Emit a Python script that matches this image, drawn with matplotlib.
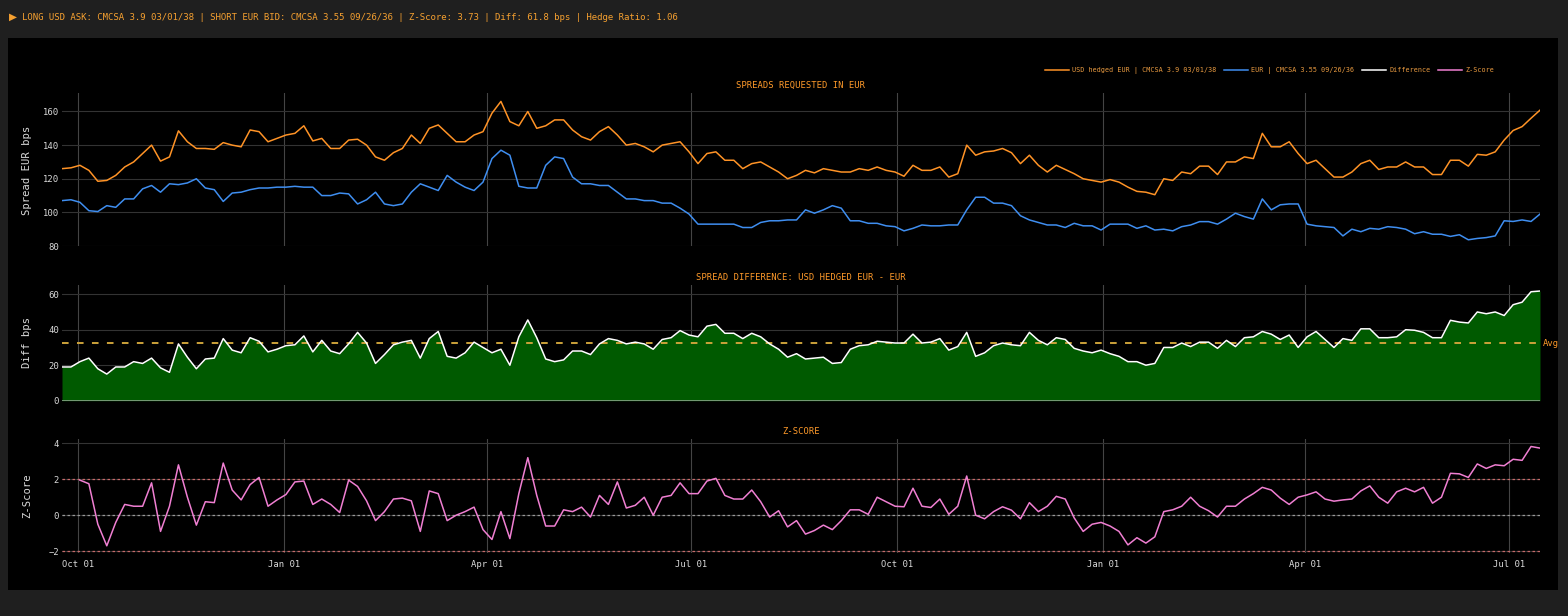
import numpy as np
import pandas as pd
import matplotlib
matplotlib.use("Agg")
import matplotlib.pyplot as plt
import matplotlib.dates as mdates
from matplotlib.lines import Line2D
from matplotlib.patches import Rectangle

# ---------------- data ----------------
start_date = "2023-09-24"
step = "4D"

usd_hedged_eur = [
    126, 126.5, 128, 125, 118.5, 119, 122, 127, 130, 135,
    140, 130.5, 133, 148.5, 142, 138, 138, 137.5, 141.5, 140,
    139, 149, 148, 142, 144, 146, 147, 151.5, 142.5, 144,
    138, 138, 143, 143.5, 140, 133, 131, 135.5, 138, 146,
    141, 150, 152, 147, 142, 142, 146, 148, 159, 166,
    154, 151.5, 160, 150, 151.5, 155, 155, 149, 145, 143,
    148, 151, 146, 140, 141, 139, 136, 140, 141, 142,
    136, 129, 135, 136, 131, 131, 126, 129, 130, 127,
    124, 120, 122, 125, 123.5, 126, 125, 124, 124, 126,
    125, 127, 125, 124, 121.5, 128, 125, 125, 127, 121,
    123, 140, 134, 136, 136.5, 138, 135.5, 129, 134, 128,
    124, 128, 125.5, 123, 120, 119, 118, 119.5, 118, 115,
    112.5, 112, 110.5, 120, 119, 124, 123, 127.5, 127.5, 122.5,
    130, 130, 133, 132, 147, 139, 139, 142, 135, 129,
    131, 126, 121, 121, 124, 129, 131, 125.5, 127, 127,
    130, 127, 127, 122.5, 122.5, 131, 131, 127.5, 134.5, 134,
    136, 143, 148.7, 151, 156, 160.8,
]

eur = [
    107, 107.5, 106, 101, 100.5, 104, 103, 108, 108, 114,
    116, 112, 117, 116.5, 117.5, 120, 114.5, 113.5, 106.5, 111.5,
    112, 113.5, 114.5, 114.5, 115, 115, 115.5, 115, 115, 110,
    110, 111.5, 111, 105, 107.5, 112, 105, 104, 105, 112,
    117, 115, 113, 122, 118, 115, 113, 118, 132, 137,
    134, 115.5, 114.5, 114.5, 128, 133, 132, 121, 117, 117,
    116, 116, 112, 108, 108, 107, 107, 105.5, 105.5, 102.5,
    99, 93, 93, 93, 93, 93, 91, 91, 94, 95,
    95, 95.5, 95.5, 101.5, 99.5, 101.5, 104, 102.5, 95, 95,
    93.5, 93.5, 92, 91.5, 89, 90.5, 92.5, 92, 92, 92.5,
    92.5, 101.5, 109, 109, 105.5, 105.5, 104, 98, 95.5, 94,
    92.5, 92.5, 91, 93.5, 92, 92, 89.5, 93, 93, 93,
    90.5, 92, 89.5, 90, 89, 91.5, 92.5, 94.5, 94.5, 93,
    96, 99.5, 97.5, 96, 108, 101.5, 104.5, 105, 105, 93,
    92, 91.5, 91, 86, 90, 88.5, 90.5, 90, 91.5, 91,
    90, 87.3, 88.5, 87, 87, 85.7, 86.7, 83.7, 84.5, 85,
    86, 95, 94.6, 95.5, 94.6, 99,
]

z_score = [
    np.nan, np.nan, 1.95, 1.75, -0.5, -1.7, -0.4, 0.6, 0.5, 0.5,
    1.8, -0.9, 0.5, 2.8, 1.0, -0.55, 0.75, 0.7, 2.9, 1.4,
    0.85, 1.7, 2.1, 0.5, 0.85, 1.15, 1.85, 1.9, 0.6, 0.9,
    0.6, 0.15, 1.95, 1.6, 0.8, -0.3, 0.2, 0.9, 0.95, 0.8,
    -0.9, 1.35, 1.2, -0.3, 0.0, 0.2, 0.45, -0.8, -1.35, 0.2,
    -1.3, 1.2, 3.2, 1.1, -0.6, -0.6, 0.3, 0.2, 0.45, -0.1,
    1.1, 0.6, 1.85, 0.4, 0.55, 1.0, 0.0, 1.0, 1.1, 1.8,
    1.2, 1.2, 1.9, 2.05, 1.1, 0.9, 0.9, 1.4, 0.75, -0.1,
    0.25, -0.65, -0.3, -1.05, -0.85, -0.55, -0.8, -0.3, 0.3, 0.3,
    0.05, 1.0, 0.75, 0.5, 0.47, 1.5, 0.5, 0.43, 0.9, 0.05,
    0.5, 2.18, 0.0, -0.2, 0.2, 0.47, 0.28, -0.2, 0.7, 0.2,
    0.5, 1.05, 0.9, -0.15, -0.9, -0.5, -0.4, -0.6, -0.9, -1.65,
    -1.25, -1.55, -1.2, 0.2, 0.3, 0.5, 1.0, 0.5, 0.25, -0.1,
    0.5, 0.5, 0.9, 1.2, 1.55, 1.4, 0.95, 0.6, 1.0, 1.13,
    1.3, 0.9, 0.78, 0.85, 0.9, 1.35, 1.63, 1.0, 0.67, 1.3,
    1.5, 1.3, 1.55, 0.67, 1.0, 2.33, 2.3, 2.1, 2.85, 2.6,
    2.8, 2.75, 3.11, 3.05, 3.82, 3.73,
]

avg_diff = 32.3
z_levels = [-2, 0, 2]

header = ("LONG USD ASK: CMCSA 3.9 03/01/38 | SHORT EUR BID: CMCSA 3.55 09/26/36 "
          "| Z-Score: 3.73 | Diff: 61.8 bps | Hedge Ratio: 1.06")
legend_labels = ["USD hedged EUR | CMCSA 3.9 03/01/38", "EUR | CMCSA 3.55 09/26/36",
                 "Difference", "Z-Score"]
titles = ["SPREADS REQUESTED IN EUR", "SPREAD DIFFERENCE: USD HEDGED EUR - EUR", "Z-SCORE"]
ylabels = ["Spread EUR bps", "Diff bps", "Z-Score"]
yticks1 = [80, 100, 120, 140, 160]
yticks2 = [0, 20, 40, 60]
yticks3 = [-2, 0, 2, 4]

dates = pd.date_range(start_date, periods=len(usd_hedged_eur), freq=step)
usd = np.array(usd_hedged_eur, dtype=float)
eu = np.array(eur, dtype=float)
diff = usd - eu
z = np.array(z_score, dtype=float)

# ---------------- style ----------------
MONO = ["DejaVu Sans Mono", "DejaVu Sans"]
plt.rcParams["font.family"] = MONO
ORANGE = "#ff9326"
BLUE = "#3f8ef0"
PINK = "#f07fd2"
TXT = "#dadada"
TITLE_C = "#ff9a2a"
GRID_H = "#333333"
GRID_V = "#444444"

W, H = 1568, 616
fig = plt.figure(figsize=(W / 100, H / 100), dpi=100, facecolor="#1f1f1f")
bg = Rectangle((8 / W, 1 - 590 / H), (1558 - 8) / W, (590 - 38) / H,
               transform=fig.transFigure, facecolor="black", edgecolor="none", zorder=-10)
fig.add_artist(bg)

def px_axes(top, bottom, left=62, right=1540):
    return fig.add_axes([left / W, 1 - bottom / H, (right - left) / W, (bottom - top) / H])

ax1 = px_axes(93, 246)
ax2 = px_axes(285, 400.7)
ax3 = px_axes(439.3, 553)
axes = [ax1, ax2, ax3]

for ax in axes:
    ax.set_facecolor("black")
    for s in ax.spines.values():
        s.set_visible(False)
    ax.tick_params(axis="both", length=0, colors=TXT, labelsize=6.4)
    ax.tick_params(axis="y", pad=2)
    ax.tick_params(axis="x", pad=5)
    ax.set_xlim(dates[0], dates[-1])
    ax.xaxis.set_major_locator(mdates.MonthLocator(bymonth=[1, 4, 7, 10], bymonthday=1))
    ax.xaxis.set_major_formatter(mdates.DateFormatter("%b %d"))
    ax.grid(axis="x", color=GRID_V, lw=0.8)
    ax.grid(axis="y", color=GRID_H, lw=0.8)
    ax.set_axisbelow(True)

for ax in (ax1, ax2):
    ax.tick_params(axis="x", labelbottom=False)

# panel 1
l1, = ax1.plot(dates, usd, color=ORANGE, lw=1.1)
l2, = ax1.plot(dates, eu, color=BLUE, lw=1.1)
ax1.set_ylim(80, 171)
ax1.set_yticks(yticks1)

# panel 2
ax2.fill_between(dates, diff, 0, color="#005a00", lw=0, zorder=1.5)
ax2.axhline(0, color="#7e9e7e", lw=1.3, zorder=2)
ax2.axhline(avg_diff, color="#cca23a", lw=1.4, ls=(0, (3.4, 4.3)), zorder=2.5)
l3, = ax2.plot(dates, diff, color="white", lw=1.1, zorder=3)
ax2.text(1.002, avg_diff, "Avg", transform=ax2.get_yaxis_transform(), color=TITLE_C,
         fontsize=6.4, va="center", ha="left")
ax2.set_ylim(0, 65.2)
ax2.set_yticks(yticks2)

# panel 3
for lv in z_levels:
    c = "#9a9a9a" if lv == 0 else "#c86a6a"
    ax3.axhline(lv, color=c, lw=0.9, ls=(0, (2, 2)), zorder=1.5)
l4, = ax3.plot(dates, z, color=PINK, lw=1.1, zorder=3)
ax3.set_ylim(-2.1, 4.22)
ax3.set_yticks(yticks3)

# titles and labels
for t, y in zip(titles, [85, 277, 431]):
    fig.text(801 / W, 1 - y / H, t, color=TITLE_C, fontsize=6.4, ha="center", va="center")
for lab, y in zip(ylabels, [170, 343, 496]):
    fig.text(27 / W, 1 - y / H, lab, color=TXT, fontsize=7.6, rotation=90,
             ha="center", va="center")

fig.text(9 / W, 1 - 17 / H, "\u25B6", color="#f5a030", fontsize=7.5, ha="left", va="center",
         family=["DejaVu Sans"])
fig.text(22 / W, 1 - 17 / H, header, color="#f5a030", fontsize=6.45, ha="left", va="center")

handles = [Line2D([], [], color=ORANGE, lw=1.1), Line2D([], [], color=BLUE, lw=1.1),
           Line2D([], [], color="white", lw=1.1), Line2D([], [], color=PINK, lw=1.1)]
leg = fig.legend(handles, legend_labels, loc="center right",
                 bbox_to_anchor=(1494 / W, 1 - 71 / H), ncol=4, frameon=False,
                 fontsize=4.9, handlelength=3.5, handletextpad=0.5, columnspacing=1.1,
                 borderaxespad=0, borderpad=0)
for t in leg.get_texts():
    t.set_color("#e89a40")

fig.savefig("out.png", dpi=100, facecolor=fig.get_facecolor())
